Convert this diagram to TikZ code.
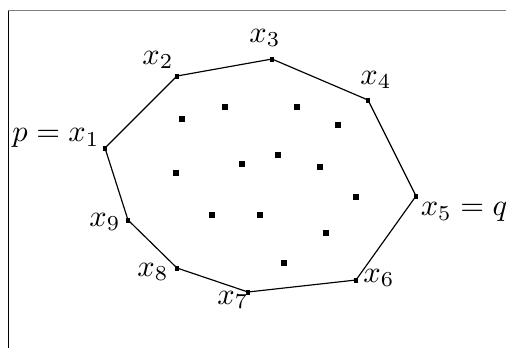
\documentclass[tikz,border=0pt]{standalone}
\usepackage{tikz}
\usetikzlibrary{positioning}
\usepackage{amsmath}

\tikzset{
    pt/.style={fill=black, inner sep=0pt, minimum size=1.9pt, draw=none},
    hullpt/.style={fill=black, inner sep=0pt, minimum size=1.7pt, draw=none},
    lbl/.style={inner sep=1pt, scale=1.04}
}

\begin{document}
\begin{tikzpicture}[x=0.012cm, y=-0.012cm]
    \useasboundingbox (0,0) rectangle (506,348);
    % frame
    \draw[gray, line width=0.6pt] (8,10.5) -- (506,10.5);
    \draw[black, line width=0.5pt] (8.5,10.5) -- (8.5,348);
    % hull vertices
    \foreach \n/\x/\y in {1/105/148, 2/177/76, 3/272/59, 4/368/100, 5/416/196,
                          6/356/280, 7/248/292, 8/177/268, 9/128/220} {
        \node[hullpt] (x\n) at (\x,\y) {};
    }
    \draw[line width=0.4pt] (x1.center) -- (x2.center) -- (x3.center) -- (x4.center)
        -- (x5.center) -- (x6.center) -- (x7.center) -- (x8.center) -- (x9.center) -- cycle;
    % interior points
    \foreach \x/\y [count=\k] in {225/107, 297/107, 182/119, 338/125, 278/155, 242/164,
                      320/167, 176/173, 356/197, 212/215, 260/215, 326/233, 284/263} {
        \node[pt] (q\k) at (\x,\y) {};
    }
    % labels
    \node[lbl] (l1) at (56,138) {$p = x_1$};
    \node[lbl] (l2) at (158,60) {$x_2$};
    \node[lbl] (l3) at (265,38) {$x_3$};
    \node[lbl] (l4) at (376,80) {$x_4$};
    \node[lbl] (l5) at (464,212) {$x_5 = q$};
    \node[lbl] (l6) at (379,278) {$x_6$};
    \node[lbl] (l7) at (233,300) {$x_7$};
    \node[lbl] (l8) at (153,272) {$x_8$};
    \node[lbl] (l9) at (105,222) {$x_9$};
\end{tikzpicture}
\end{document}
